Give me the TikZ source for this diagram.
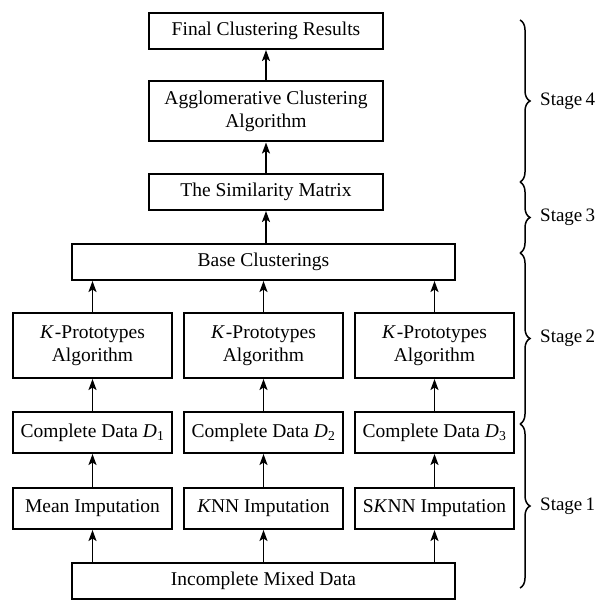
\documentclass[tikz,border=0pt]{standalone}
\usepackage{fontspec}
\setmainfont{Liberation Serif}
\usetikzlibrary{arrows.meta,decorations.pathreplacing}
\begin{document}
\begin{tikzpicture}[x=1pt,y=-1pt,
  box/.style={draw, line width=2pt, inner sep=0pt, align=center,
    font=\fontsize{19.5}{22.5}\selectfont},
  arr/.style={-{Stealth[length=11pt,width=8pt,inset=2.5pt]}, line width=1.8pt},
  brc/.style={decorate, decoration={brace, amplitude=10pt}, line width=1.5pt},
  stage/.style={anchor=west, inner sep=0pt, font=\fontsize{19}{22}\selectfont}]
\useasboundingbox (0,0) rectangle (600,601);

% top chain
\node[box, minimum width=234pt, minimum height=36pt] (final) at (266,31) {Final Clustering Results};
\node[box, minimum width=234pt, minimum height=60pt] (agg) at (266,111.5) {Agglomerative Clustering\\Algorithm};
\node[box, minimum width=234pt, minimum height=36pt] (sim) at (266,192) {The Similarity Matrix};
\node[box, minimum width=383pt, minimum height=36pt] (base) at (263.5,262) {Base Clusterings};

% K-prototypes
\node[box, minimum width=159pt, minimum height=65pt] (kp1) at (92.5,345.5) {\textit{K}\kern1pt-Prototypes\\Algorithm};
\node[box, minimum width=159pt, minimum height=65pt] (kp2) at (263.5,345.5) {\textit{K}\kern1pt-Prototypes\\Algorithm};
\node[box, minimum width=159pt, minimum height=65pt] (kp3) at (434.5,345.5) {\textit{K}\kern1pt-Prototypes\\Algorithm};

% complete data
\node[box, minimum width=159pt, minimum height=41pt] (cd1) at (92.5,432.5) {Complete Data \textit{D}\textsubscript{1}};
\node[box, minimum width=159pt, minimum height=41pt] (cd2) at (263.5,432.5) {Complete Data \textit{D}\textsubscript{2}};
\node[box, minimum width=159pt, minimum height=41pt] (cd3) at (434.5,432.5) {Complete Data \textit{D}\textsubscript{3}};

% imputation
\node[box, minimum width=159pt, minimum height=41pt] (imp1) at (92.5,508.5) {Mean Imputation};
\node[box, minimum width=159pt, minimum height=41pt] (imp2) at (263.5,508.5) {\textit{K}NN Imputation};
\node[box, minimum width=159pt, minimum height=41pt] (imp3) at (434.5,508.5) {S\textit{K}NN Imputation};

\node[box, minimum width=383pt, minimum height=36pt] (inc) at (263.5,580.5) {Incomplete Mixed Data};

% arrows
\draw[arr] (agg) -- (final);
\draw[arr] (sim) -- (agg);
\draw[arr] (sim |- base.north) -- (sim.south);
\foreach \i in {1,2,3}{
  \draw[arr] (kp\i.north) -- (kp\i |- base.south);
  \draw[arr] (cd\i) -- (kp\i);
  \draw[arr] (imp\i) -- (cd\i);
  \draw[arr] (imp\i |- inc.north) -- (imp\i.south);
}

% braces
\draw[brc] (520,20) -- (520,182);
\draw[brc] (520,182) -- (520,253);
\draw[brc] (520,253) -- (520,424);
\draw[brc] (520,424) -- (520,588);

\node[stage] (s4) at (540,101) {Stage\,4};
\node[stage] (s3) at (540,217.5) {Stage\,3};
\node[stage] (s2) at (540,338.5) {Stage\,2};
\node[stage] (s1) at (540,506) {Stage\,1};
\end{tikzpicture}
\end{document}
